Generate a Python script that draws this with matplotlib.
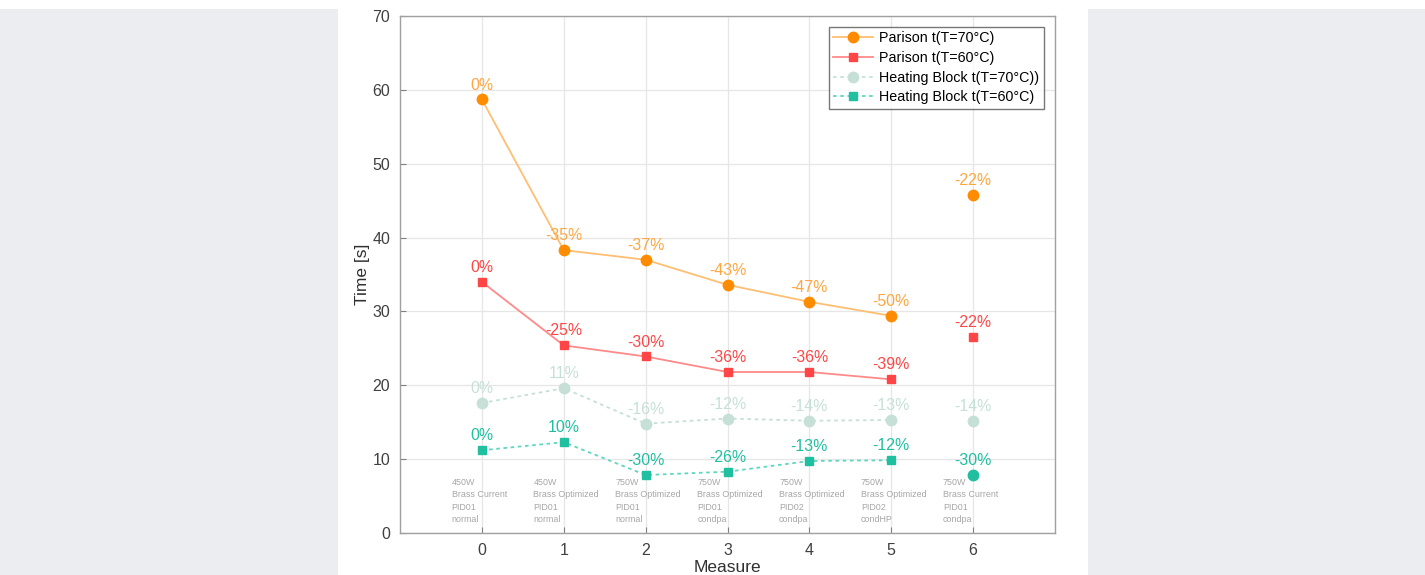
import matplotlib
matplotlib.use("Agg")
import matplotlib.pyplot as plt
from matplotlib.patches import Rectangle

plt.rcParams['font.family'] = ['Liberation Sans', 'DejaVu Sans']

measures = [0, 1, 2, 3, 4, 5, 6]

parison_70 = [58.7, 38.3, 37.0, 33.6, 31.3, 29.4, 45.8]
parison_60 = [34.0, 25.4, 23.9, 21.8, 21.8, 20.8, 26.6]
block_70 = [17.6, 19.6, 14.8, 15.5, 15.2, 15.3, 15.2]
block_60 = [11.2, 12.3, 7.85, 8.3, 9.75, 9.85, 7.85]

parison_70_pct = ["0%", "-35%", "-37%", "-43%", "-47%", "-50%", "-22%"]
parison_60_pct = ["0%", "-25%", "-30%", "-36%", "-36%", "-39%", "-22%"]
block_70_pct = ["0%", "11%", "-16%", "-12%", "-14%", "-13%", "-14%"]
block_60_pct = ["0%", "10%", "-30%", "-26%", "-13%", "-12%", "-30%"]

configs = [
    ["450W", "Brass Current", "PID01", "normal"],
    ["450W", "Brass Optimized", "PID01", "normal"],
    ["750W", "Brass Optimized", "PID01", "normal"],
    ["750W", "Brass Optimized", "PID01", "condpa"],
    ["750W", "Brass Optimized", "PID02", "condpa"],
    ["750W", "Brass Optimized", "PID02", "condHP"],
    ["750W", "Brass Current", "PID01", "condpa"],
]

c_p70 = "#ff8c00"
c_p70_line = "#ffbf73"
c_p70_text = "#ffa640"
c_p60 = "#ff4545"
c_p60_line = "#ff8a8a"
c_b70 = "#c6e0d8"
c_b60 = "#1fbfa0"
c_b60_line = "#5fd6c0"

fig = plt.figure(figsize=(14.25, 5.75), dpi=100)
fig.patch.set_facecolor("white")
# grey side panels
fig.patches.append(Rectangle((0, 0), 338 / 1425, 566 / 575, transform=fig.transFigure,
                             facecolor="#ecedf0", edgecolor="none", zorder=-10))
fig.patches.append(Rectangle((1088 / 1425, 0), 1 - 1088 / 1425, 566 / 575, transform=fig.transFigure,
                             facecolor="#ecedf0", edgecolor="none", zorder=-10))

ax = fig.add_axes([400 / 1425, 42 / 575, 655 / 1425, 517 / 575])

n = 6  # connected points; the last measure is drawn on its own
ax.plot(measures[:n], parison_70[:n], color=c_p70_line, lw=1.3, zorder=3)
ax.plot(measures[:n], parison_60[:n], color=c_p60_line, lw=1.3, zorder=3)
ax.plot(measures[:n], block_70[:n], color=c_b70, lw=1.3, ls=(0, (2, 2)), zorder=3)
ax.plot(measures[:n], block_60[:n], color=c_b60_line, lw=1.3, ls=(0, (2, 2)), zorder=3)

ax.plot(measures, parison_70, ls="none", marker="o", ms=7.5, color=c_p70, zorder=4)
ax.plot(measures, parison_60, ls="none", marker="s", ms=6.2, color=c_p60, zorder=4)
ax.plot(measures, block_70, ls="none", marker="o", ms=7.5, color=c_b70, zorder=4)
ax.plot(measures[:n], block_60[:n], ls="none", marker="s", ms=6.2, color=c_b60, zorder=4)
ax.plot(measures[n:], block_60[n:], ls="none", marker="o", ms=7.5, color=c_b60, zorder=4)

# legend proxies
h1, = ax.plot([], [], color=c_p70_line, lw=1.3, marker="o", ms=7.5, mfc=c_p70, mec=c_p70)
h2, = ax.plot([], [], color=c_p60_line, lw=1.3, marker="s", ms=6.2, mfc=c_p60, mec=c_p60)
h3, = ax.plot([], [], color=c_b70, lw=1.3, ls=(0, (2, 2)), marker="o", ms=7.5, mfc=c_b70, mec=c_b70)
h4, = ax.plot([], [], color=c_b60_line, lw=1.3, ls=(0, (2, 2)), marker="s", ms=6.2, mfc=c_b60, mec=c_b60)
leg = ax.legend([h1, h2, h3, h4],
                ["Parison t(T=70°C)", "Parison t(T=60°C)",
                 "Heating Block t(T=70°C))", "Heating Block t(T=60°C)"],
                loc="upper right", bbox_to_anchor=(0.983, 0.979), fontsize=10.3,
                frameon=True, fancybox=False, borderpad=0.3, labelspacing=0.4,
                handlelength=2.8, handletextpad=0.45, borderaxespad=0)
leg.get_frame().set_edgecolor("#555555")
leg.get_frame().set_linewidth(1.0)

# percentage labels
for series, labels, col in [(parison_70, parison_70_pct, c_p70_text),
                            (parison_60, parison_60_pct, c_p60),
                            (block_70, block_70_pct, c_b70),
                            (block_60, block_60_pct, c_b60)]:
    for x, y, s in zip(measures, series, labels):
        ax.annotate(s, (x, y), xytext=(0, 5), textcoords="offset points",
                    ha="center", va="bottom", fontsize=11.4, color=col, zorder=5)

# configuration notes per measure
for x, lines in zip(measures, configs):
    ax.text(x - 0.37, 7.4, "\n".join(lines), ha="left", va="top", fontsize=6.4,
            color="#a6a6a6", linespacing=1.45, zorder=2)

ax.set_xlim(-1, 7)
ax.set_ylim(0, 70)
ax.set_xticks(measures)
ax.set_yticks(range(0, 71, 10))
ax.grid(True, color="#e6e6e6", lw=0.9)
ax.set_axisbelow(True)
for sp in ax.spines.values():
    sp.set_color("#a0a0a0")
    sp.set_linewidth(1.0)
ax.tick_params(axis="both", labelsize=11.5, labelcolor="#404040", length=4, width=0.8,
               direction="in", top=False, right=False, color="#808080", pad=7)
ax.set_xlabel("Measure", fontsize=12.5, color="#303030", labelpad=2)
ax.set_ylabel("Time [s]", fontsize=12.5, color="#303030", labelpad=1.5)

fig.savefig("out.png", dpi=100)
